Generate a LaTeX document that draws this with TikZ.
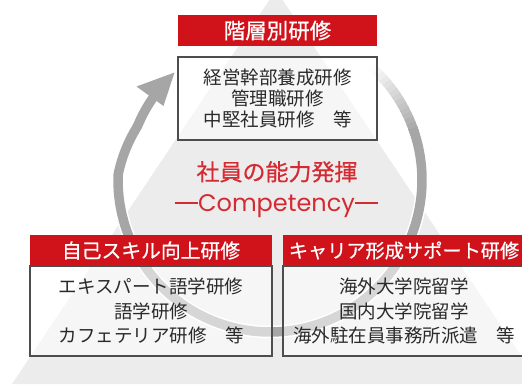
\documentclass[tikz,border=0pt]{standalone}
\usepackage{fontspec}
\setmainfont{Noto Sans CJK JP}
\newfontfamily\poppfont{Poppins}
\newfontfamily\medfont[FakeBold=0.6]{Noto Sans CJK JP}
\definecolor{hred}{HTML}{D0121B}
\definecolor{tred}{HTML}{D42A32}
\definecolor{ringg}{HTML}{A6A6A6}
\definecolor{trig}{HTML}{ECECEC}
\definecolor{bordg}{HTML}{4D4D4D}
\definecolor{txtg}{HTML}{2A2A2A}
\newcommand{\mydash}{\rule[7.8pt]{23pt}{1.7pt}}
\begin{document}
\begin{tikzpicture}[x=1pt,y=-1pt,
  hdr/.style={fill=hred, text=white, inner sep=0pt, minimum height=31pt, font=\medfont\fontsize{19.8}{20}\selectfont},
  bodybox/.style={draw=bordg, line width=1.2pt, fill=white, fill opacity=0.55, text opacity=1, text=txtg, align=center, inner sep=0pt},
  ringline/.style={line width=9.5pt, ringg},
]
\useasboundingbox (0,0) rectangle (522,386);
\clip (0,0) rectangle (522,386);
% pyramid
\fill[trig] (276,-10) -- (540,384) -- (12,384) -- cycle;
% ring glow and ring
\draw[white, line width=12.5pt] plot[domain=-20:214, samples=160] ({270+(152-9*min(1,max(0,(\x-182)/20)))*cos(\x)},{180+(152-9*min(1,max(0,(\x-182)/20)))*sin(\x)});
\draw[ringline] plot[domain=-20:216, samples=160] ({270+(152-9*min(1,max(0,(\x-182)/20)))*cos(\x)},{180+(152-9*min(1,max(0,(\x-182)/20)))*sin(\x)});
% fading start of ring
\foreach \i in {0,...,14} {
  \pgfmathsetmacro\aa{-48+2*\i}
  \pgfmathsetmacro\bb{-45.6+2*\i}
  \pgfmathtruncatemacro\pp{5+\i*95/14}
  \draw[line width=9.5pt, ringg!\pp!white] plot[domain=\aa:\bb, samples=4] ({270+152*cos(\x)},{180+152*sin(\x)});
}
% arrow head
\coordinate (tip) at (174.5,72.5);
\coordinate (barbA) at (136.5,86.5);
\coordinate (barbB) at (163.5,106);
\fill[ringg] (tip) -- (barbA) -- (barbB) -- cycle;
% top group
\node[hdr, minimum width=199pt, font=\medfont\fontsize{21.5}{22}\selectfont] (h1) at (277.5,30.5) {階層別研修};
\node[bodybox, minimum width=199pt, minimum height=83pt, font=\fontsize{18.5}{21}\selectfont] (b1) at (277.5,98.5) {経営幹部養成研修\\管理職研修\\中堅社員研修　等};
% center
\node[text=tred, inner sep=0pt, anchor=base, font=\medfont\fontsize{23}{23}\selectfont] (c1) at (277,180.5) {社員の能力発揮};
\node[text=tred, inner sep=0pt, anchor=base, font=\poppfont\fontsize{24}{24}\selectfont] (c2) at (276.5,211.5) {\mydash Competency\mydash};
% bottom left group
\node[hdr, minimum width=242pt] (h2) at (151,250.5) {自己スキル向上研修};
\node[bodybox, minimum width=242pt, minimum height=90pt, font=\fontsize{18.5}{24.5}\selectfont] (b2) at (151,311) {エキスパート語学研修\\語学研修\\カフェテリア研修　等};
% bottom right group
\node[hdr, minimum width=242pt, font=\medfont\fontsize{19.2}{20}\selectfont] (h3) at (404,250.5) {キャリア形成サポート研修};
\node[bodybox, minimum width=242pt, minimum height=90pt, font=\fontsize{18.5}{24.5}\selectfont] (b3) at (404,311) {海外大学院留学\\国内大学院留学\\海外駐在員事務所派遣　等};
\end{tikzpicture}
\end{document}
